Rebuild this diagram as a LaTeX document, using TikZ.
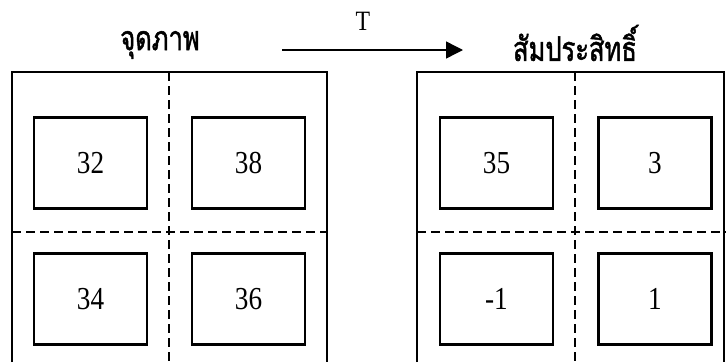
\documentclass[tikz,border=0pt]{standalone}
\usepackage{fontspec}
\setmainfont{Liberation Serif}[FakeStretch=0.85]
\newfontfamily\thaifont[Script=Thai, FakeStretch=0.75, FakeBold=1.4]{Loma}
\usetikzlibrary{arrows.meta}

\begin{document}
\begin{tikzpicture}[x=1pt,y=-1pt]

 \tikzset{
    cell/.style={draw, line width=2.2pt, minimum width=113pt, minimum height=91pt,
      font=\fontsize{32}{34}\selectfont},
    frame/.style={line width=1.6pt},
    split/.style={line width=1.6pt, dash pattern=on 9pt off 5pt},
    title/.style={font=\thaifont\fontsize{34}{36}\selectfont},
  }

  \useasboundingbox (0,0) rectangle (726,362);

  % pixels block
  \draw[frame] (12,362) -- (12,72) -- (327,72) -- (327,362);
  \draw[split] (169,72) -- (169,362);
  \draw[split] (12,232) -- (327,232);
  \node[cell] (p11) at (90.5,163) {32};
  \node[cell] (p12) at (248.5,163) {38};
  \node[cell] (p21) at (90.5,299) {34};
  \node[cell] (p22) at (248.5,299) {36};

  % coefficients block
  \draw[frame] (417,362) -- (417,72) -- (724,72) -- (724,362);
  \draw[split] (575,72) -- (575,362);
  \draw[split] (417,232) -- (726,232);
  \node[cell] (c11) at (496.5,163) {35};
  \node[cell] (c12) at (655,163) {3};
  \node[cell] (c21) at (496.5,299) {-1};
  \node[cell] (c22) at (655,299) {1};

  % titles and transform
  \node[title] (pixels) at (160,45) {จุดภาพ};
  \node[title] (coeffs) at (575,43) {สัมประสิทธิ์};
  \coordinate (tstart) at (282,50);
  \coordinate (tend) at (463,50);
  \draw[line width=1.4pt, -{Triangle[length=17pt,width=17pt]}] (tstart) -- (tend);
  \node[font=\fontsize{28}{30}\selectfont] (trans) at (363,21) {T};

\end{tikzpicture}
\end{document}
